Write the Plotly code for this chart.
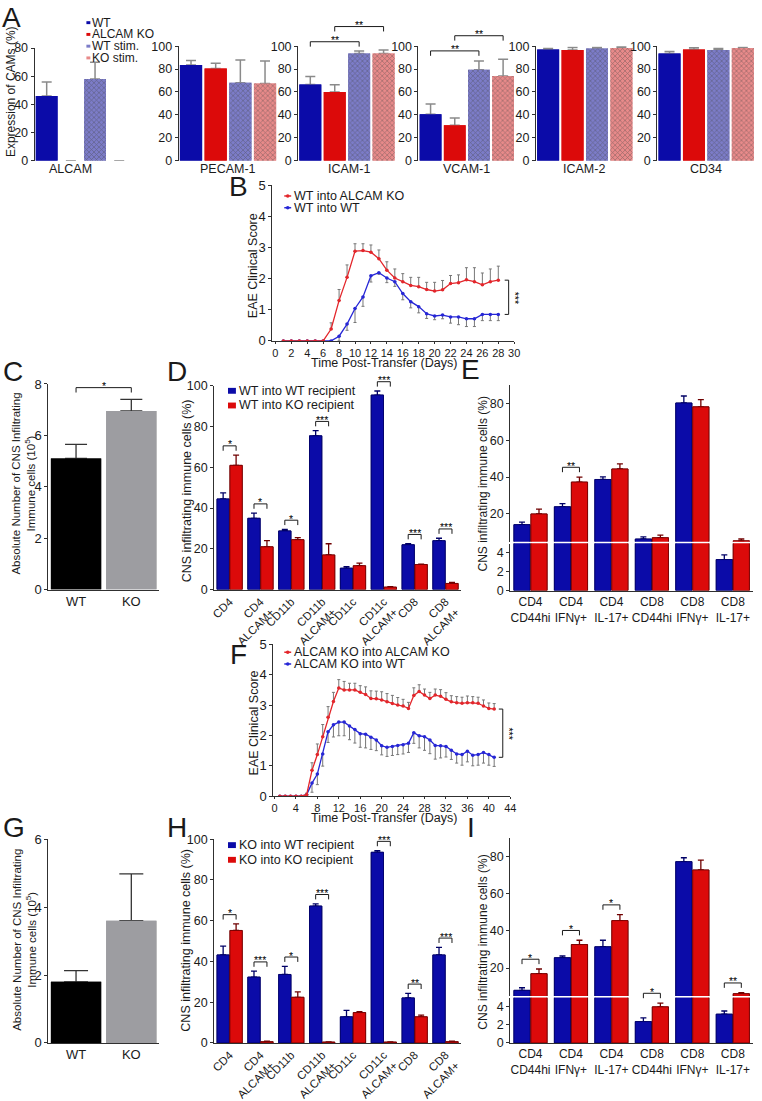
import plotly.graph_objects as go

# ======================= DATA =======================
# ---- Panel A : expression of CAMs (%)
cams = ["ALCAM", "PECAM-1", "ICAM-1", "VCAM-1", "ICAM-2", "CD34"]
a_groups = ["WT", "ALCAM KO", "WT stim.", "KO stim."]
a_wt = [46.0, 83.5, 66.5, 40.5, 97.0, 93.7]
a_wt_err = [10.0, 4.0, 7.0, 9.0, 1.0, 1.7]
a_ko = [0.0, 80.5, 60.0, 31.0, 96.6, 97.1]
a_ko_err = [0.0, 4.5, 6.3, 6.2, 2.3, 1.5]
a_wts = [58.0, 68.0, 93.7, 79.4, 98.0, 96.6]
a_wts_err = [12.0, 20.0, 2.0, 7.7, 0.9, 1.4]
a_kos = [0.0, 67.5, 93.7, 74.0, 98.3, 98.3]
a_kos_err = [0.0, 19.5, 2.9, 14.6, 1.1, 0.6]
a_sig = [("ICAM-1", "WT", "WT stim.", "**"), ("ICAM-1", "ALCAM KO", "KO stim.", "**"),
         ("VCAM-1", "WT", "WT stim.", "**"), ("VCAM-1", "ALCAM KO", "KO stim.", "**")]

# ---- Panel B : EAE clinical score
b_names = ["WT into ALCAM KO", "WT into WT"]
b_days = list(range(1, 29))
b_ko = [0, 0, 0, 0, 0, 0, 0.38, 1.3, 2.04, 2.88, 2.9, 2.85, 2.64, 2.27, 2.02, 1.9, 1.78,
        1.74, 1.65, 1.6, 1.64, 1.84, 1.87, 1.96, 1.9, 1.8, 1.9, 1.95]
b_ko_err = [0, 0, 0, 0, 0, 0, 0.2, 0.35, 0.4, 0.24, 0.22, 0.23, 0.28, 0.27, 0.29, 0.26, 0.26,
            0.3, 0.23, 0.28, 0.3, 0.26, 0.25, 0.39, 0.45, 0.38, 0.41, 0.45]
b_wt = [0, 0, 0, 0, 0, 0, 0, 0.15, 0.54, 1.04, 1.41, 2.09, 2.19, 2.02, 1.9, 1.52, 1.26,
        1.1, 0.87, 0.8, 0.83, 0.77, 0.77, 0.71, 0.71, 0.85, 0.85, 0.85]
b_wt_err = [0, 0, 0, 0, 0, 0, 0, 0.15, 0.2, 0.45, 0.3, 0.2, 0.05, 0.15, 0.15, 0.2, 0.2,
            0.2, 0.15, 0.12, 0.12, 0.2, 0.25, 0.25, 0.25, 0.2, 0.2, 0.2]
b_sig = "***"

# ---- Panel C / G : absolute numbers (10^5)
cg_groups = ["WT", "KO"]
c_vals = [5.1, 6.95]
c_err = [0.55, 0.45]
c_sig = "*"
g_vals = [1.8, 3.6]
g_err = [0.33, 1.38]

# ---- Panel D / H : CNS infiltrating immune cells (%)
dh_cats = ["CD4", "CD4<br>ALCAM+", "CD11b", "CD11b<br>ALCAM+", "CD11c",
           "CD11c<br>ALCAM+", "CD8", "CD8<br>ALCAM+"]
d_names = ["WT into WT recipient", "WT into KO recipient"]
d_wt = [44.5, 35.0, 28.8, 75.5, 10.5, 95.5, 22.0, 24.0]
d_wt_err = [3.0, 2.5, 0.7, 2.5, 0.8, 2.0, 0.5, 1.2]
d_ko = [61.0, 21.0, 24.5, 17.0, 11.7, 1.2, 12.3, 3.0]
d_ko_err = [5.0, 3.0, 1.0, 5.5, 1.3, 0.2, 0.2, 0.5]
d_sig = ["*", "*", "*", "***", "", "***", "***", "***"]

h_names = ["KO into WT recipient", "KO into KO recipient"]
h_wt = [43.2, 32.3, 33.6, 67.2, 12.8, 93.6, 22.1, 43.2]
h_wt_err = [4.3, 2.9, 4.0, 1.1, 3.2, 0.8, 2.2, 3.7]
h_ko = [55.2, 0.6, 22.4, 0.4, 14.9, 0.4, 12.8, 0.6]
h_ko_err = [3.2, 0.2, 2.7, 0.1, 0.4, 0.1, 0.8, 0.2]
h_sig = ["*", "***", "*", "***", "", "***", "**", "***"]

# ---- Panel E / I : cytokine subsets (%) with broken axis
ei_cats = ["CD4<br>CD44hi", "CD4<br>IFNγ+", "CD4<br>IL-17+", "CD8<br>CD44hi",
           "CD8<br>IFNγ+", "CD8<br>IL-17+"]
e_wt = [14.2, 23.9, 38.7, 6.4, 80.2, 3.3]
e_wt_err = [1.4, 1.7, 1.4, 1.2, 3.8, 0.5]
e_ko = [20.0, 37.3, 44.4, 7.1, 78.1, 5.4]
e_ko_err = [2.6, 2.7, 2.8, 1.4, 3.9, 1.0]
e_sig = ["", "**", "", "", "", ""]

i_wt = [8.0, 25.6, 31.5, 2.37, 77.4, 3.19]
i_wt_err = [1.4, 0.9, 3.5, 0.4, 2.1, 0.35]
i_ko = [17.0, 32.7, 45.6, 4.0, 72.9, 6.2]
i_ko_err = [2.5, 2.3, 3.2, 0.42, 5.3, 0.5]
i_sig = ["*", "*", "*", "*", "", "**"]

# ---- Panel F : EAE clinical score
f_names = ["ALCAM KO into ALCAM KO", "ALCAM KO into WT"]
f_days = list(range(1, 42))
f_ko = [0, 0, 0, 0, 0, 0.05, 0.85, 1.37, 1.96, 2.6, 3.12, 3.56, 3.5, 3.5, 3.5, 3.42, 3.35,
        3.22, 3.21, 3.17, 3.11, 3.05, 3.0, 2.97, 2.89, 3.32, 3.45, 3.33, 3.22, 3.33, 3.29,
        3.19, 3.11, 3.08, 3.06, 3.08, 3.08, 3.06, 2.97, 2.89, 2.87]
f_ko_err = [0, 0, 0, 0, 0, 0.05, 0.25, 0.35, 0.4, 0.35, 0.3, 0.28, 0.28, 0.22, 0.22, 0.22,
            0.25, 0.25, 0.25, 0.27, 0.27, 0.27, 0.25, 0.22, 0.2, 0.25, 0.22, 0.2, 0.2, 0.2,
            0.22, 0.22, 0.2, 0.2, 0.2, 0.22, 0.2, 0.2, 0.2, 0.18, 0.18]
f_wt = [0, 0, 0, 0, 0, 0.05, 0.43, 0.73, 1.39, 2.12, 2.35, 2.44, 2.44, 2.31, 2.2, 2.06, 2.04,
        1.94, 1.85, 1.66, 1.61, 1.64, 1.67, 1.69, 1.74, 2.09, 1.99, 1.96, 1.85, 1.67, 1.66,
        1.64, 1.51, 1.39, 1.37, 1.48, 1.35, 1.37, 1.44, 1.37, 1.28]
f_wt_err = [0, 0, 0, 0, 0, 0.05, 0.3, 0.35, 0.4, 0.35, 0.4, 0.45, 0.45, 0.45, 0.45, 0.45,
            0.45, 0.4, 0.35, 0.3, 0.3, 0.3, 0.3, 0.3, 0.3, 0.35, 0.4, 0.45, 0.45, 0.45, 0.4,
            0.35, 0.3, 0.3, 0.35, 0.35, 0.35, 0.35, 0.35, 0.35, 0.3]
f_sig = "***"

# ======================= STYLE =======================
W, H = 762, 1101
FONT = "Liberation Sans, Arial, Helvetica, sans-serif"
TXT = "#1a1a1a"
AXC = "#303030"
BLUE, RED = "#0b0ba8", "#dc0a0a"
BLUE_D, RED_D = "#000066", "#700000"
STB_BG, STB_FG = "#7c7cc8", "#5252ac"
STR_BG, STR_FG = "#e88a8a", "#c85a5a"
LBLUE, LRED = "#2626d6", "#e3262b"
ERRG = "#8a8a8a"

fig = go.Figure()
shapes, annots = [], []
lay = {}
P = {}


def sfx(n):
    return "" if n == 1 else str(n)


def add_axes(n, xpx, xr, ypx, yr, xkw=None, ykw=None, fs=12.5):
    s = sfx(n)
    base = dict(showgrid=False, zeroline=False, fixedrange=True, showline=True,
                linecolor=AXC, linewidth=1, ticks="outside", ticklen=3, tickwidth=1,
                tickcolor=AXC, tickfont=dict(family=FONT, size=fs, color=TXT))
    xa = dict(base, domain=[xpx[0] / W, xpx[1] / W], range=list(xr), anchor="y" + s)
    ya = dict(base, domain=[1 - ypx[1] / H, 1 - ypx[0] / H], range=list(yr), anchor="x" + s,
              ticklabeloverflow="allow")
    if xkw:
        xa.update(xkw)
    if ykw:
        ya.update(ykw)
    lay["xaxis" + s] = xa
    lay["yaxis" + s] = ya
    P[n] = (xpx, xr, ypx, yr)


def X(n, v):
    xpx, xr, _, _ = P[n]
    return xpx[0] + (v - xr[0]) / (xr[1] - xr[0]) * (xpx[1] - xpx[0])


def Y(n, v):
    _, _, ypx, yr = P[n]
    return ypx[1] - (v - yr[0]) / (yr[1] - yr[0]) * (ypx[1] - ypx[0])


def PX(x):
    return x / W


def PY(y):
    return 1 - y / H


def text(x, y, s, size=12, angle=0, xanchor="center", yanchor="middle", color=TXT):
    annots.append(dict(x=PX(x), y=PY(y), xref="paper", yref="paper", text=s,
                       showarrow=False, textangle=angle, xanchor=xanchor, yanchor=yanchor,
                       borderpad=0, font=dict(family=FONT, size=size, color=color)))


def seg(x0, y0, x1, y1, color=TXT, w=1):
    shapes.append(dict(type="line", xref="paper", yref="paper", x0=PX(x0), y0=PY(y0),
                       x1=PX(x1), y1=PY(y1), line=dict(color=color, width=w)))


def rect(x0, y0, x1, y1, color):
    shapes.append(dict(type="rect", xref="paper", yref="paper", x0=PX(x0), y0=PY(y0),
                       x1=PX(x1), y1=PY(y1), line=dict(width=0), fillcolor=color))


def dot(x, y, r, color):
    shapes.append(dict(type="circle", xref="paper", yref="paper", x0=PX(x - r), y0=PY(y - r),
                       x1=PX(x + r), y1=PY(y + r), line=dict(width=0), fillcolor=color))


def hbracket(xa, xb, y, label, leg=5, fs=10.5):
    path = (f"M{PX(xa)},{PY(y + leg)} L{PX(xa)},{PY(y)} "
            f"L{PX(xb)},{PY(y)} L{PX(xb)},{PY(y + leg)}")
    shapes.append(dict(type="path", xref="paper", yref="paper", path=path,
                       line=dict(color=TXT, width=1)))
    text((xa + xb) / 2, y - 1.5, label, fs, color="#000000")


def vbracket(x, ya, yb, label, tick=4):
    path = (f"M{PX(x - tick)},{PY(ya)} L{PX(x)},{PY(ya)} "
            f"L{PX(x)},{PY(yb)} L{PX(x - tick)},{PY(yb)}")
    shapes.append(dict(type="path", xref="paper", yref="paper", path=path,
                       line=dict(color=TXT, width=1)))
    text(x + 6, (ya + yb) / 2, label, 10.5, angle=90, color="#000000")


def up_err(err):
    return dict(type="data", symmetric=False, array=list(err),
                arrayminus=[0 if e else None for e in err])


def down_err(err):
    return dict(type="data", symmetric=False, arrayminus=list(err),
                array=[0 if e else None for e in err])


def bars(n, x, y, err, color, edge, ecolor, width, offset=None, ew=3, eth=1.3, pattern=None):
    s = sfx(n)
    for with_err in (True, False):
        mk = dict(color=color, line=dict(color=edge or "rgba(0,0,0,0)", width=0.8 if edge else 0))
        if pattern:
            mk["pattern"] = pattern
        kw = dict(x=x, y=y, width=width, xaxis="x" + s, yaxis="y" + s,
                  hoverinfo="skip", marker=mk)
        if offset is not None:
            kw["offset"] = offset
        if with_err:
            e = up_err(err)
            e.update(color=ecolor, width=ew, thickness=eth)
            kw["error_y"] = e
        fig.add_trace(go.Bar(**kw))


def letter(x, y, s):
    text(x, y, s, 28)


# axis numbers of the panels
NA = [1, 2, 3, 4, 5, 6]
NB, NC, ND, NE_LO, NE_UP, NF, NG, NH, NI_LO, NI_UP = 7, 8, 9, 10, 11, 12, 13, 14, 15, 16

# ======================= PANEL A =======================
A_xpx = [(31, 129), (177, 277), (298, 397), (420, 518), (539, 638), (662, 761)]
A_lab_x = [67, 227, 350, 469, 588, 711]
for i, cam in enumerate(cams):
    n = NA[i]
    ymax = 80 if i == 0 else 100
    top = 42 if i == 0 else 40
    add_axes(n, A_xpx[i], (-0.5, 3.5), (top, 157), (0, ymax),
             xkw=dict(showline=False, ticks="", showticklabels=False),
             ykw=dict(tickvals=list(range(0, ymax + 1, 20))))
    vals = [a_wt[i], a_ko[i], a_wts[i], a_kos[i]]
    errs = [a_wt_err[i], a_ko_err[i], a_wts_err[i], a_kos_err[i]]
    pat = dict(shape=["", "", "x", "x"], fgcolor=[BLUE, RED, STB_FG, STR_FG],
               bgcolor=[BLUE, RED, STB_BG, STR_BG], size=3.5, solidity=0.35)
    bars(n, list(range(4)), vals, errs, [BLUE, RED, STB_BG, STR_BG], None, ERRG, 0.9,
         ew=5, eth=1.5, pattern=pat)
    text(A_lab_x[i], 165, cam, 12.5)
    pairs = [p for p in a_sig if p[0] == cam]
    if pairs:
        level = Y(n, max(v + e for v, e in zip(vals, errs))) - 8.5
        for k, (_, g1, g2, s) in enumerate(pairs):
            hbracket(X(n, a_groups.index(g1)), X(n, a_groups.index(g2)), level - 15.5 * k, s)

letter(8, 11, "A")
text(7, 86, "Expression of CAMs (%)", 12, angle=-90)
for k, (g, c) in enumerate(zip(a_groups, [BLUE, RED, STB_BG, STR_BG])):
    yy = 16 + 12 * k
    rect(83.5, yy - 1.5, 87.5, yy + 1.5, c)
    text(88.5, yy, g, 12, xanchor="left")


# ======================= PANELS B / F (clinical score) =======================
def score_panel(n, xpx, xr, ypx, xt, days, ko, ko_err, wt, wt_err, sig, sig_day,
                names, leg_y, lab, lab_y, ytitle_y, xtitle_y):
    add_axes(n, xpx, xr, ypx, (0, 5),
             xkw=dict(tickvals=xt, tickangle=0, ticklen=2,
                      tickfont=dict(family=FONT, size=11, color=TXT)),
             ykw=dict(tickvals=[0, 1, 2, 3, 4, 5]), fs=13)
    s = sfx(n)
    for yv, ev, col, down in [(wt, wt_err, LBLUE, True), (ko, ko_err, LRED, False)]:
        e = down_err(ev) if down else up_err(ev)
        e.update(color="#777777", width=1.5, thickness=1)
        fig.add_trace(go.Scatter(x=days, y=yv, mode="lines+markers", xaxis="x" + s, yaxis="y" + s,
                                 line=dict(color=col, width=1.3), marker=dict(size=3.5, color=col),
                                 error_y=e, hoverinfo="skip"))
    vbracket(X(n, sig_day), Y(n, ko[-1]), Y(n, wt[-1]), sig)
    letter(238, lab_y, lab)
    text(253, ytitle_y, "EAE Clinical Score", 12.5, angle=-90)
    text(385, xtitle_y, "Time Post-Transfer (Days)", 12.5)
    for k, (nm, col) in enumerate(zip(names, [LRED, LBLUE])):
        yy = leg_y + 12 * k
        seg(284, yy, 291, yy, col, 1.5)
        dot(287.5, yy, 1.8, col)
        text(293, yy, nm, 12.5, xanchor="left")


score_panel(NB, (271.8, 517), (-0.4, 30), (182, 341), list(range(0, 31, 2)), b_days,
            b_ko, b_ko_err, b_wt, b_wt_err, b_sig, 29.3, b_names, 193, "B", 183, 264, 364)
score_panel(NF, (273, 513), (-0.2, 44), (651, 806), list(range(0, 45, 4)), f_days,
            f_ko, f_ko_err, f_wt, f_wt_err, f_sig, 42.6, f_names, 659, "F", 661, 731, 828)

# ======================= PANELS C / G =======================
cg_ax = dict(tickvals=[0, 1], ticktext=cg_groups, ticks="")
add_axes(NC, (45, 157), (-0.5, 1.5), (385, 595), (0, 8), xkw=cg_ax,
         ykw=dict(tickvals=[0, 2, 4, 6, 8]), fs=13)
bars(NC, [0, 1], c_vals, c_err, ["#000000", "#9d9da1"], None, "#333333", 0.91, ew=11, eth=1.3)
lvl = Y(NC, max(v + e for v, e in zip(c_vals, c_err))) - 12
hbracket(X(NC, 0), X(NC, 1), lvl, c_sig)
letter(9, 372, "C")
text(20, 487, "Absolute Number of CNS Infiltrating<br>Immune cells (10<sup>5</sup>)", 11.5, angle=-90)

add_axes(NG, (45, 157), (-0.5, 1.5), (850, 1058), (0, 6), xkw=cg_ax,
         ykw=dict(tickvals=[0, 2, 4, 6]), fs=13)
bars(NG, [0, 1], g_vals, g_err, ["#000000", "#9d9da1"], None, "#333333", 0.91, ew=12, eth=1.3)
letter(10, 838, "G")
text(20, 953, "Absolute Number of CNS Infiltrating<br>Immune cells (10<sup>5</sup>)", 11.5, angle=-90)


# ======================= PANELS D / H =======================
def grouped_panel(n, ypx, wt, wt_err, ko, ko_err, sig, names, leg_y, title_y, lab, lab_y):
    add_axes(n, (213, 463), (-0.5, 7.5), ypx, (0, 100),
             xkw=dict(tickvals=list(range(len(dh_cats))), ticktext=dh_cats, ticks="",
                      tickangle=-45, tickfont=dict(family=FONT, size=11.5, color=TXT)),
             ykw=dict(tickvals=list(range(0, 101, 20))))
    xs = list(range(len(dh_cats)))
    bars(n, xs, wt, wt_err, BLUE, BLUE_D, BLUE_D, 0.4, offset=-0.41)
    bars(n, xs, ko, ko_err, RED, RED_D, RED_D, 0.4, offset=0.01)
    for i, s in enumerate(sig):
        if s:
            top = max(wt[i] + wt_err[i], ko[i] + ko_err[i])
            hbracket(X(n, i - 0.21), X(n, i + 0.21), Y(n, top) - 9.5, s)
    for k, (nm, col) in enumerate(zip(names, [BLUE, RED])):
        yy = leg_y + 15 * k
        rect(227, yy - 3, 235, yy + 3, col)
        text(237, yy, nm, 12.5, xanchor="left")
    text(185, title_y, "CNS infiltrating immune cells (%)", 12.5, angle=-90)
    letter(175, lab_y, lab)


grouped_panel(ND, (387, 595), d_wt, d_wt_err, d_ko, d_ko_err, d_sig, d_names, 392, 494, "D", 372)
grouped_panel(NH, (850, 1058), h_wt, h_wt_err, h_ko, h_ko_err, h_sig, h_names, 856, 953, "H", 838)


# ======================= PANELS E / I (broken y axis) =======================
def broken_panel(nl, nu, low_px, up_px, wt, wt_err, ko, ko_err, sig, title_y, lab, lab_y):
    xs = list(range(len(ei_cats)))
    add_axes(nl, (513, 759), (-0.5, 5.5), low_px, (0, 5),
             xkw=dict(tickvals=xs, ticktext=ei_cats, ticks="", tickangle=0,
                      tickfont=dict(family=FONT, size=12, color=TXT)),
             ykw=dict(tickvals=[0, 2, 4]))
    add_axes(nu, (513, 759), (-0.5, 5.5), up_px, (5, 90),
             xkw=dict(visible=False), ykw=dict(tickvals=[20, 40, 60, 80]))
    for n in (nl, nu):
        bars(n, xs, wt, wt_err, BLUE, BLUE_D, BLUE_D, 0.4, offset=-0.41)
        bars(n, xs, ko, ko_err, RED, RED_D, RED_D, 0.4, offset=0.01)

    def yb(v):
        return Y(nl, v) if v <= 5 else Y(nu, v)

    for i, s in enumerate(sig):
        if s:
            top = max(wt[i] + wt_err[i], ko[i] + ko_err[i])
            hbracket(X(nl, i - 0.21), X(nl, i + 0.21), yb(top) - 10, s)
    text(485, title_y, "CNS infiltrating immune cells (%)", 12, angle=-90)
    letter(473, lab_y, lab)


broken_panel(NE_LO, NE_UP, (548, 596), (386, 546), e_wt, e_wt_err, e_ko, e_ko_err, e_sig, 487, "E", 370)
broken_panel(NI_LO, NI_UP, (1012, 1058), (849, 1010), i_wt, i_wt_err, i_ko, i_ko_err, i_sig, 955, "I", 838)

# ======================= LAYOUT =======================
fig.update_layout(width=W, height=H, margin=dict(l=0, r=0, t=0, b=0),
                  paper_bgcolor="white", plot_bgcolor="white", showlegend=False,
                  barmode="overlay", font=dict(family=FONT, size=12, color=TXT),
                  shapes=shapes, annotations=annots, **lay)
fig.write_html("out.html", config={"displayModeBar": False},
               post_script="document.body.style.margin='0px';document.body.style.overflow='hidden';")
